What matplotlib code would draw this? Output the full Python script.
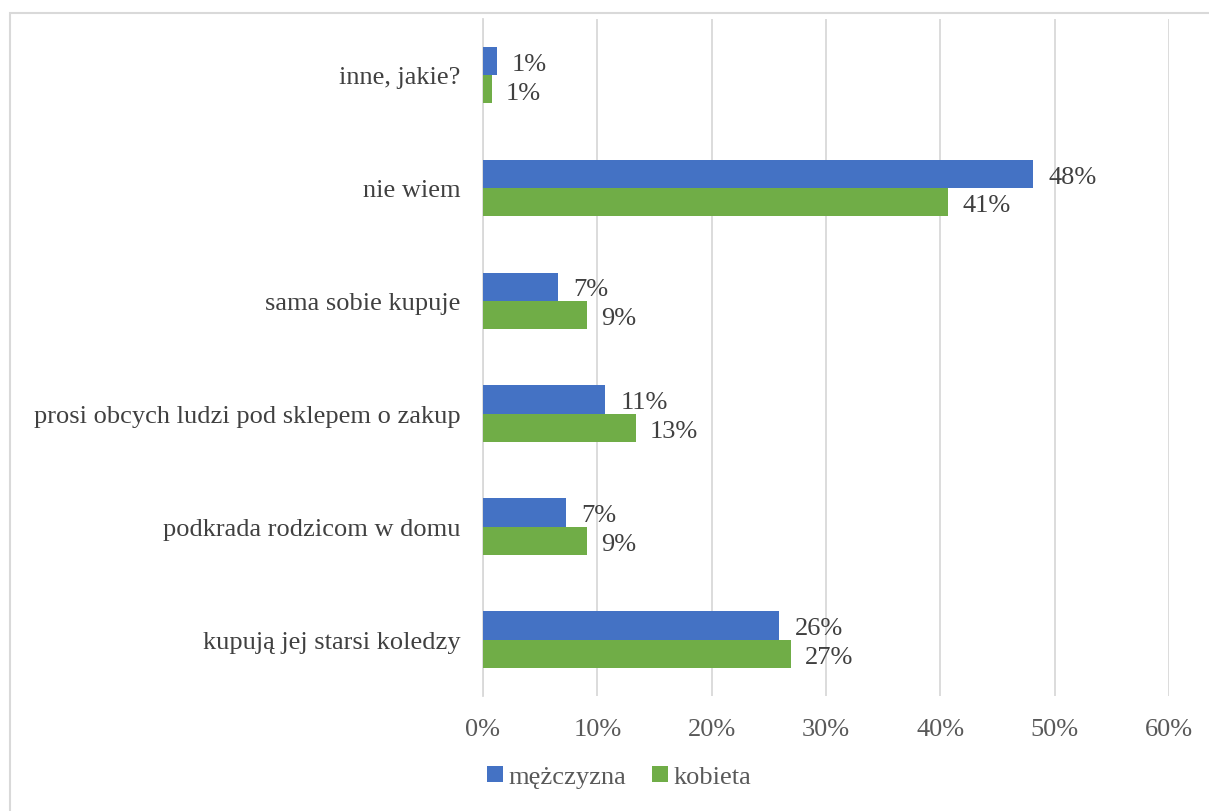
import matplotlib.pyplot as plt
import numpy as np
from matplotlib.patches import Rectangle

plt.rcParams['font.family'] = ['Liberation Serif', 'DejaVu Serif']

categories = ['kupują jej starsi koledzy', 'podkrada rodzicom w domu',
              'prosi obcych ludzi pod sklepem o zakup', 'sama sobie kupuje',
              'nie wiem', 'inne, jakie?']
men = [25.9, 7.3, 10.7, 6.6, 48.1, 1.2]
women = [26.9, 9.1, 13.4, 9.1, 40.7, 0.8]
men_labels = ['26%', '7%', '11%', '7%', '48%', '1%']
women_labels = ['27%', '9%', '13%', '9%', '41%', '1%']
series_names = ['mężczyzna', 'kobieta']
x_ticks = [0, 10, 20, 30, 40, 50, 60]

blue = '#4472c4'
green = '#70ad47'
text_col = '#404040'
tick_col = '#595959'
fs = 19

fig = plt.figure(figsize=(12.09, 8.12), dpi=100)
ax = fig.add_axes([483 / 1209, 1 - 697 / 812, (1169 - 483) / 1209, (697 - 19.5) / 812])

y = np.arange(len(categories))
h = 0.25
b1 = ax.barh(y + h / 2, men, height=h, color=blue, zorder=3)
b2 = ax.barh(y - h / 2, women, height=h, color=green, zorder=3)

# value labels next to bar ends
for rect, lab in zip(b1, men_labels):
    ax.annotate(lab, (rect.get_width(), rect.get_y() + rect.get_height() / 2),
                xytext=(11, -2), textcoords='offset points', va='center', ha='left',
                fontsize=fs, color=text_col)
for rect, lab in zip(b2, women_labels):
    ax.annotate(lab, (rect.get_width(), rect.get_y() + rect.get_height() / 2),
                xytext=(10, -2.5), textcoords='offset points', va='center', ha='left',
                fontsize=fs, color=text_col)

ax.set_xlim(0, 60)
ax.set_ylim(-0.5, len(categories) - 0.5)
ax.set_xticks(x_ticks)
ax.set_xticklabels([f'{t}%' for t in x_ticks], fontsize=fs, color=tick_col)
ax.set_yticks(y)
ax.set_yticklabels(categories, fontsize=fs, color=text_col)
ax.tick_params(axis='y', length=0, pad=16)
ax.tick_params(axis='x', length=0, pad=16)
ax.xaxis.grid(True, color='#d9d9d9', linewidth=1.3, zorder=0)
for s in ['top', 'right', 'bottom']:
    ax.spines[s].set_visible(False)
ax.spines['left'].set_color('#d9d9d9')
ax.spines['left'].set_linewidth(1.3)

fig.legend([b1, b2], series_names, loc='center', bbox_to_anchor=(619 / 1209, 1 - 778 / 812),
           ncol=2, frameon=False, fontsize=fs, handlelength=0.6, handleheight=0.6,
           handletextpad=0.2, columnspacing=1.0, labelcolor=tick_col)

fig.patches.append(Rectangle((10 / 1209, -0.01), 1.02, 1 - 14 / 812 + 0.01,
                             transform=fig.transFigure, fill=False,
                             edgecolor='#d9d9d9', linewidth=1.5))

fig.savefig('out.png')
